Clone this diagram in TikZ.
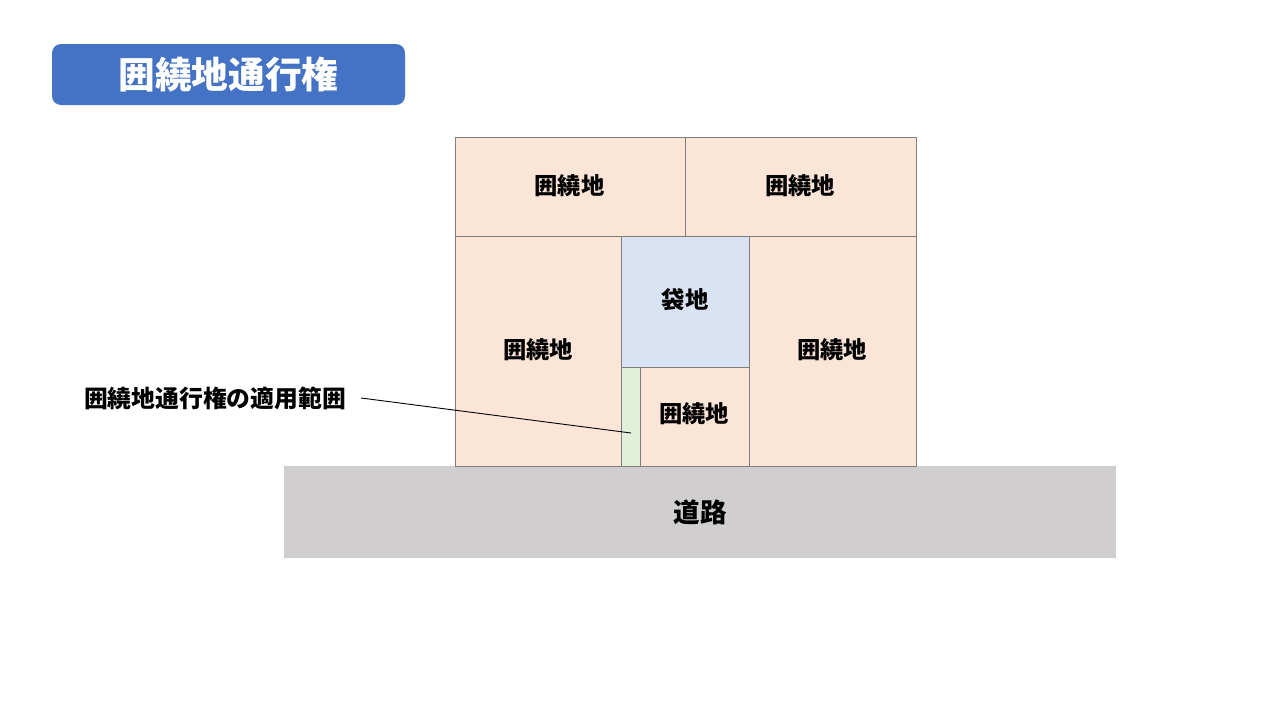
\documentclass[tikz,border=0pt]{standalone}
\usepackage{fontspec}
\setmainfont{Noto Sans CJK JP}
\definecolor{titleblue}{HTML}{4472C4}
\definecolor{lotorange}{HTML}{FBE5D6}
\definecolor{lotblue}{HTML}{DAE3F3}
\definecolor{lotgreen}{HTML}{E2F0D9}
\definecolor{roadgray}{HTML}{D0CECE}
\definecolor{edgegray}{HTML}{7F7F7F}
\tikzset{
  lot/.style={draw=edgegray, line width=0.75pt, fill=lotorange},
  lbl/.style={font=\bfseries\fontsize{23.3}{23.3}\selectfont, inner sep=0pt}
}
\begin{document}
\begin{tikzpicture}[x=1pt, y=-1pt]
        \useasboundingbox (0,0) rectangle (1280,720);
        % title
        \fill[titleblue, rounded corners=9pt] (52,44) rectangle (405,105);
        \node[lbl, text=white, font=\bfseries\fontsize{36.7}{36.7}\selectfont] (title) at (228.5,74) {囲繞地通行権};
        
        % road
        \fill[roadgray] (284,466) rectangle (1116,558);
        \node[lbl, font=\bfseries\fontsize{26.5}{26.5}\selectfont] (road) at (700,512) {道路};
        
        % top row
        \draw[lot] (455,137) rectangle (685,236);
        \node[lbl] (topl) at (569.5,186) {囲繞地};
        \draw[lot] (685,137) rectangle (916,236);
        \node[lbl] (topr) at (800,186) {囲繞地};
        
        % left and right
        \draw[lot] (455,236) rectangle (621,466);
        \node[lbl] (left) at (538,350) {囲繞地};
        \draw[lot] (749,236) rectangle (916,466);
        \node[lbl] (right) at (832,350) {囲繞地};
        
        % middle column
        \draw[lot, fill=lotblue] (621,236) rectangle (749,367);
        \node[lbl] (bag) at (685,300) {袋地};
        \draw[lot] (640,367) rectangle (749,466);
        \node[lbl] (low) at (694,414) {囲繞地};
        \draw[lot, fill=lotgreen] (621,367) rectangle (640,466);
        
        % callout
        \node[lbl, font=\bfseries\fontsize{23.8}{23.8}\selectfont] (scope) at (215,398) {囲繞地通行権の適用範囲};
        \coordinate (tip) at (631,433);
        \draw[line width=0.9pt] ([xshift=15pt]scope.east) -- (tip);
    \end{tikzpicture}
\end{document}
